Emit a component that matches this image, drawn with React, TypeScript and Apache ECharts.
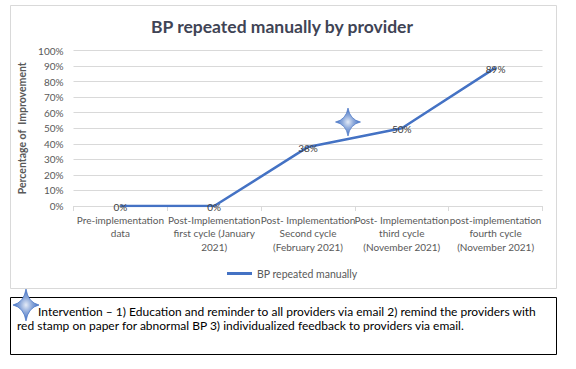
import React, { useEffect, useRef } from "react";
import * as echarts from "echarts";

const categories = [
  "Pre-implementation\ndata",
  "Post-Implementation\nfirst cycle (January\n2021)",
  "Post- Implementation\nSecond cycle\n(February 2021)",
  "Post- Implementation\nthird cycle\n(November 2021)",
  "post-implementation\nfourth cycle\n(November 2021)",
];
const values = [0, 0, 38, 50, 89];
const seriesName = "BP repeated manually";
const titleText = "BP repeated manually by provider";
const yAxisName = "Percentage of  Improvement";
const noteLine1 = "Intervention \u2013 1) Education and reminder to all providers via email 2) remind the providers with";
const noteLine2 = "red stamp on paper for abnormal BP 3) individualized feedback to providers via email.";

const FONT = "Lato";
const BLUE = "#4472C4";

let registered = false;
function registerStar() {
  if (registered) return;
  registered = true;
  const d =
    "M0,-10 Q1.6,-1.6 10,0 Q1.6,1.6 0,10 Q-1.6,1.6 -10,0 Q-1.6,-1.6 0,-10 Z";
  echarts.graphic.registerShape("star4", echarts.graphic.extendPath(d, {}) as any);
}

const starFill = {
  type: "radial",
  x: 0.5,
  y: 0.5,
  r: 0.5,
  colorStops: [
    { offset: 0, color: "#e4ebf7" },
    { offset: 0.45, color: "#8eaadb" },
    { offset: 1, color: BLUE },
  ],
};

export default function App() {
  const ref = useRef<HTMLDivElement>(null);
  useEffect(() => {
    document.body.style.margin = "0";
    registerStar();
    const chart = echarts.init(ref.current!, null, { renderer: "svg" });
    chart.setOption({
      animation: false,
      backgroundColor: "#ffffff",
      textStyle: { fontFamily: FONT },
      grid: { left: 73.5, right: 33.5, top: 50.5, bottom: 163 },
      legend: {
        data: [{ name: seriesName, icon: "rect" }],
        left: 222,
        top: 263,
        itemWidth: 25,
        itemHeight: 3,
        itemGap: 4,
        textStyle: { fontSize: 10.5, color: "#595959", fontFamily: FONT },
      },
      xAxis: {
        type: "category",
        data: categories,
        boundaryGap: true,
        axisLine: { lineStyle: { color: "#d9d9d9", width: 1 } },
        axisTick: { show: true, length: 5, lineStyle: { color: "#d9d9d9" } },
        axisLabel: {
          interval: 0,
          fontSize: 10,
          lineHeight: 13.5,
          color: "#595959",
          margin: 7,
          fontFamily: FONT,
        },
      },
      yAxis: {
        type: "value",
        min: 0,
        max: 100,
        interval: 10,
        name: yAxisName,
        nameLocation: "middle",
        nameRotate: 90,
        nameGap: 38,
        nameTextStyle: { fontSize: 10.5, fontWeight: "bold", color: "#595959", fontFamily: FONT },
        axisLine: { show: false },
        axisTick: { show: false },
        splitLine: { lineStyle: { color: "#d9d9d9", width: 1 } },
        axisLabel: {
          formatter: "{value}%",
          fontSize: 10,
          color: "#595959",
          margin: 10,
          fontFamily: FONT,
        },
      },
      series: [
        {
          name: seriesName,
          type: "line",
          data: values,
          symbol: "circle",
          symbolSize: 0.1,
          showSymbol: true,
          lineStyle: { color: BLUE, width: 2.5 },
          itemStyle: { color: BLUE },
          label: {
            show: true,
            position: "top",
            distance: 0,
            offset: [0, 6],
            formatter: "{c}%",
            fontSize: 10,
            color: "#404040",
            fontFamily: FONT,
          },
        },
      ],
      graphic: [
        {
          type: "rect",
          z: -10,
          shape: { x: 10.5, y: 5.5, width: 546, height: 283 },
          style: { fill: "#ffffff", stroke: "#d9d9d9", lineWidth: 1 },
        },
        {
          type: "text",
          x: 282,
          y: 26,
          style: {
            text: titleText,
            fontSize: 17.5,
            fontWeight: "bold",
            fill: "#404455",
            fontFamily: FONT,
            textAlign: "center",
            textVerticalAlign: "middle",
          },
        },
        {
          type: "star4",
          x: 348,
          y: 122,
          scaleX: 1.25,
          scaleY: 1.4,
          z: 10,
          style: { fill: starFill, stroke: BLUE, lineWidth: 0.5 },
        },
        {
          type: "rect",
          shape: { x: 10.5, y: 297.5, width: 546, height: 57 },
          style: { fill: "#ffffff", stroke: "#000000", lineWidth: 1 },
        },
        {
          type: "star4",
          x: 26,
          y: 305,
          scaleX: 1.3,
          scaleY: 1.6,
          z: 10,
          style: { fill: starFill, stroke: BLUE, lineWidth: 0.5 },
        },
        {
          type: "text",
          x: 38,
          y: 311,
          style: {
            text: noteLine1,
            fontSize: 12,
            fill: "#000000",
            fontFamily: FONT,
            textVerticalAlign: "middle",
          },
        },
        {
          type: "text",
          x: 17,
          y: 325,
          style: {
            text: noteLine2,
            fontSize: 12,
            fill: "#000000",
            fontFamily: FONT,
            textVerticalAlign: "middle",
          },
        },
      ],
    });
    return () => chart.dispose();
  }, []);
  return <div ref={ref} style={{ width: 576, height: 369 }} />;
}
